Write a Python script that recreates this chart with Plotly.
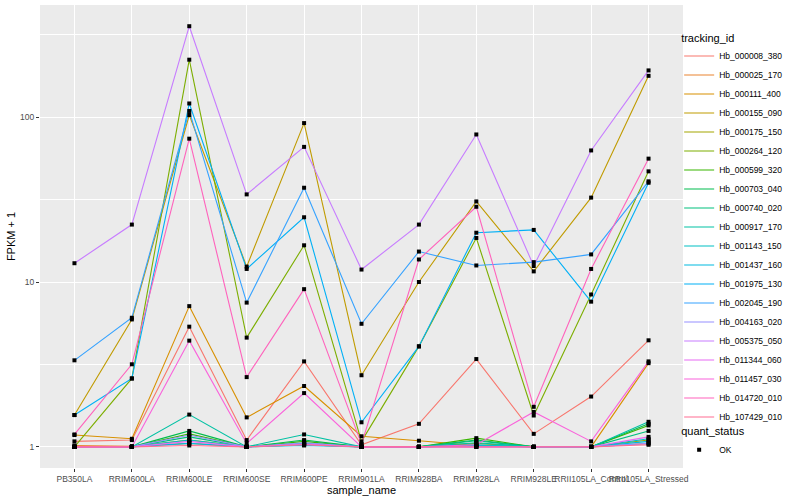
import plotly.graph_objects as go

samples = ["PB350LA", "RRIM600LA", "RRIM600LE", "RRIM600SE", "RRIM600PE", "RRIM901LA",
           "RRIM928BA", "RRIM928LA", "RRIM928LE", "RRII105LA_Control", "RRII105LA_Stressed"]

tracking_ids = ["Hb_000008_380", "Hb_000025_170", "Hb_000111_400", "Hb_000155_090",
                "Hb_000175_150", "Hb_000264_120", "Hb_000599_320", "Hb_000703_040",
                "Hb_000740_020", "Hb_000917_170", "Hb_001143_150", "Hb_001437_160",
                "Hb_001975_130", "Hb_002045_190", "Hb_004163_020", "Hb_005375_050",
                "Hb_011344_060", "Hb_011457_030", "Hb_014720_010", "Hb_107429_010"]

colors = ["#F8766D", "#EA8331", "#D89000", "#C09B00", "#A3A500", "#7CAE00", "#39B600",
          "#00BB4E", "#00BF7D", "#00C1A3", "#00BFC4", "#00BAE0", "#00B0F6", "#35A2FF",
          "#9590FF", "#C77CFF", "#E76BF3", "#FA62DB", "#FF62BC", "#FF6C91"]

# FPKM + 1 per tracking_id, in the order of samples
v_000008_380 = [1.08, 1.10, 5.36, 1.10, 3.30, 1.03, 1.38, 3.41, 1.20, 2.02, 4.43]
v_000025_170 = [1.02, 1.01, 1.05, 1.00, 1.03, 1.00, 1.00, 1.02, 1.00, 1.00, 1.05]
v_000111_400 = [1.18, 1.12, 7.14, 1.51, 2.34, 1.16, 1.09, 1.02, 1.00, 1.00, 3.22]
v_000155_090 = [1.56, 5.93, 103.0, 12.4, 92.0, 2.72, 10.0, 30.8, 11.6, 32.5, 178.0]
v_000175_150 = [1.00, 1.00, 1.10, 1.00, 1.05, 1.00, 1.00, 1.05, 1.00, 1.00, 1.10]
v_000264_120 = [1.00, 2.60, 223.0, 4.60, 16.7, 1.08, 4.07, 18.5, 1.55, 8.40, 46.9]
v_000599_320 = [1.00, 1.00, 1.20, 1.00, 1.08, 1.00, 1.00, 1.13, 1.00, 1.00, 1.35]
v_000703_040 = [1.00, 1.00, 1.25, 1.00, 1.10, 1.00, 1.00, 1.10, 1.00, 1.00, 1.38]
v_000740_020 = [1.00, 1.00, 1.15, 1.00, 1.05, 1.00, 1.00, 1.09, 1.00, 1.00, 1.25]
v_000917_170 = [1.00, 1.00, 1.57, 1.00, 1.19, 1.00, 1.00, 1.06, 1.00, 1.00, 1.42]
v_001143_150 = [1.00, 1.00, 1.10, 1.00, 1.05, 1.00, 1.00, 1.03, 1.00, 1.00, 1.12]
v_001437_160 = [1.00, 1.00, 1.05, 1.00, 1.02, 1.00, 1.00, 1.02, 1.00, 1.00, 1.08]
v_001975_130 = [1.56, 2.60, 121.0, 12.0, 24.7, 1.41, 4.07, 19.9, 20.7, 7.60, 40.0]
v_002045_190 = [3.35, 6.07, 109.0, 7.50, 37.3, 5.58, 15.3, 12.6, 13.2, 14.7, 40.8]
v_004163_020 = [1.00, 1.00, 1.18, 1.00, 1.06, 1.00, 1.00, 1.00, 1.00, 1.00, 1.05]
v_005375_050 = [13.0, 22.3, 356.0, 34.0, 66.0, 11.9, 22.3, 78.5, 12.5, 62.8, 192.0]
v_011344_060 = [1.00, 1.00, 1.08, 1.00, 1.04, 1.00, 1.00, 1.00, 1.00, 1.00, 1.15]
v_011457_030 = [1.00, 1.00, 4.41, 1.05, 2.12, 1.00, 1.00, 1.03, 1.63, 1.08, 3.30]
v_014720_010 = [1.19, 3.17, 74.0, 2.65, 9.05, 1.04, 13.7, 28.6, 1.75, 12.0, 56.0]
v_107429_010 = [1.00, 1.00, 1.02, 1.00, 1.03, 1.00, 1.00, 1.00, 1.00, 1.00, 1.03]

values = [v_000008_380, v_000025_170, v_000111_400, v_000155_090, v_000175_150,
          v_000264_120, v_000599_320, v_000703_040, v_000740_020, v_000917_170,
          v_001143_150, v_001437_160, v_001975_130, v_002045_190, v_004163_020,
          v_005375_050, v_011344_060, v_011457_030, v_014720_010, v_107429_010]

quant_status = "OK"

FONT = "Liberation Sans, Arial, Helvetica, sans-serif"

fig = go.Figure()
for name, col, vals in zip(tracking_ids, colors, values):
    fig.add_trace(go.Scatter(x=samples, y=vals, mode="lines", name=name,
                             line=dict(color=col, width=1.1), legend="legend"))

all_x = [s for _ in values for s in samples]
all_y = [v for vals in values for v in vals]
fig.add_trace(go.Scatter(x=all_x, y=all_y, mode="markers", name=quant_status,
                         marker=dict(color="black", size=4, symbol="square"),
                         legend="legend2"))

fig.update_layout(
    width=800, height=500,
    margin=dict(l=40, r=117, t=5, b=32, autoexpand=False),
    paper_bgcolor="white", plot_bgcolor="#EBEBEB",
    font=dict(family=FONT, color="black"),
    legend=dict(title=dict(text="tracking_id", font=dict(size=11)),
                font=dict(size=8.5), x=0.994, xanchor="left", y=0.952, yanchor="top",
                itemwidth=30, bgcolor="rgba(0,0,0,0)"),
    legend2=dict(title=dict(text="quant_status", font=dict(size=11)),
                 font=dict(size=8.5), x=0.994, xanchor="left", y=0.1015, yanchor="top",
                 itemwidth=30, bgcolor="rgba(0,0,0,0)"),
    xaxis=dict(type="category", range=[-0.6, 10.6], tickangle=0,
               showgrid=True, gridcolor="white", gridwidth=1.1,
               ticks="outside", ticklen=3, tickcolor="#333333",
               tickfont=dict(size=8.5, color="#4D4D4D"),
               title=dict(text="sample_name", font=dict(size=11), standoff=2),
               zeroline=False, showline=False),
    yaxis=dict(type="log", range=[-0.128, 2.68],
               tickvals=[1, 10, 100], ticktext=["1", "10", "100"],
               showgrid=True, gridcolor="white", gridwidth=1.1,
               minor=dict(tickvals=[10 ** 0.5, 10 ** 1.5, 10 ** 2.5], showgrid=True,
                          gridcolor="white", gridwidth=0.5, ticks=""),
               ticks="outside", ticklen=3, tickcolor="#333333",
               tickfont=dict(size=8.5, color="#4D4D4D"),
               title=dict(text="FPKM + 1", font=dict(size=11), standoff=2),
               zeroline=False, showline=False),
)

fig.write_html("out.html", config={"displayModeBar": False},
               post_script="document.body.style.margin='0px';")
